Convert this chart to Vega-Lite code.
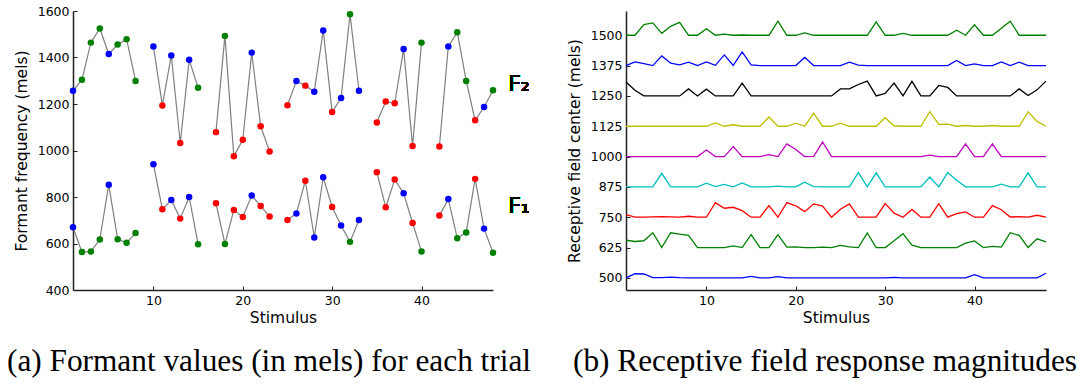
{
  "$schema": "https://vega.github.io/schema/vega-lite/v6.json",
  "background": "white",
  "padding": {"left": 6, "top": 5, "right": 5, "bottom": 5},
  "config": {
    "view": {"stroke": null},
    "font": "DejaVu Sans",
    "axis": {
      "labelFont": "DejaVu Sans", "titleFont": "DejaVu Sans",
      "labelFontSize": 12.5, "titleFontSize": 15.5, "titleFontWeight": "normal",
      "labelColor": "#000", "titleColor": "#000",
      "domainColor": "#222", "domainWidth": 1.5,
      "tickColor": "#222", "tickSize": -4, "labelPadding": 8, "grid": false, "format": "d"
    }
  },
  "resolve": {"scale": {"color": "independent"}},
  "spacing": 133,
  "bounds": "flush",
  "hconcat": [
    {
      "width": 420, "height": 279,
      "title": {"text": "(a) Formant values (in mels) for each trial", "orient": "bottom", "font": "Liberation Serif", "fontSize": 31.3, "fontWeight": "normal", "color": "#000", "anchor": "middle", "frame": "group", "offset": 20, "dx": -14},
      "data": {"values": [
        {"s":1,"F2":1257,"F1":670,"c":"A","g":1},
        {"s":2,"F2":1304,"F1":563,"c":"B","g":1},
        {"s":3,"F2":1464,"F1":566,"c":"B","g":1},
        {"s":4,"F2":1525,"F1":617,"c":"B","g":1},
        {"s":5,"F2":1415,"F1":853,"c":"A","g":1},
        {"s":6,"F2":1456,"F1":618,"c":"B","g":1},
        {"s":7,"F2":1479,"F1":603,"c":"B","g":1},
        {"s":8,"F2":1299,"F1":645,"c":"B","g":1},
        {"s":10,"F2":1447,"F1":941,"c":"A","g":2},
        {"s":11,"F2":1194,"F1":747,"c":"C","g":2},
        {"s":12,"F2":1409,"F1":787,"c":"A","g":2},
        {"s":13,"F2":1032,"F1":707,"c":"C","g":2},
        {"s":14,"F2":1390,"F1":800,"c":"A","g":2},
        {"s":15,"F2":1270,"F1":597,"c":"B","g":2},
        {"s":17,"F2":1079,"F1":773,"c":"C","g":3},
        {"s":18,"F2":1493,"F1":598,"c":"B","g":3},
        {"s":19,"F2":975,"F1":744,"c":"C","g":3},
        {"s":20,"F2":1046,"F1":714,"c":"C","g":3},
        {"s":21,"F2":1421,"F1":806,"c":"A","g":3},
        {"s":22,"F2":1104,"F1":761,"c":"C","g":3},
        {"s":23,"F2":996,"F1":716,"c":"C","g":3},
        {"s":25,"F2":1195,"F1":701,"c":"C","g":4},
        {"s":26,"F2":1299,"F1":729,"c":"A","g":4},
        {"s":27,"F2":1279,"F1":870,"c":"C","g":4},
        {"s":28,"F2":1253,"F1":626,"c":"A","g":4},
        {"s":29,"F2":1516,"F1":885,"c":"A","g":4},
        {"s":30,"F2":1166,"F1":757,"c":"C","g":4},
        {"s":31,"F2":1226,"F1":677,"c":"A","g":4},
        {"s":32,"F2":1586,"F1":607,"c":"B","g":4},
        {"s":33,"F2":1257,"F1":701,"c":"A","g":4},
        {"s":35,"F2":1120,"F1":906,"c":"C","g":5},
        {"s":36,"F2":1211,"F1":756,"c":"C","g":5},
        {"s":37,"F2":1203,"F1":875,"c":"C","g":5},
        {"s":38,"F2":1437,"F1":816,"c":"A","g":5},
        {"s":39,"F2":1019,"F1":688,"c":"C","g":5},
        {"s":40,"F2":1464,"F1":566,"c":"B","g":5},
        {"s":42,"F2":1017,"F1":720,"c":"C","g":6},
        {"s":43,"F2":1447,"F1":791,"c":"A","g":6},
        {"s":44,"F2":1509,"F1":623,"c":"B","g":6},
        {"s":45,"F2":1299,"F1":647,"c":"B","g":6},
        {"s":46,"F2":1130,"F1":878,"c":"C","g":6},
        {"s":47,"F2":1187,"F1":664,"c":"A","g":6},
        {"s":48,"F2":1259,"F1":560,"c":"B","g":6}
      ]},
      "transform": [{"fold": ["F1", "F2"], "as": ["formant", "mels"]}],
      "encoding": {
        "x": {"field": "s", "type": "quantitative", "scale": {"domain": [1, 48], "nice": false, "zero": false},
              "axis": {"values": [10, 20, 30, 40], "title": "Stimulus", "titlePadding": 4}},
        "y": {"field": "mels", "type": "quantitative", "scale": {"domain": [400, 1600], "nice": false, "zero": false},
              "axis": {"values": [400, 600, 800, 1000, 1200, 1400, 1600], "title": "Formant frequency (mels)", "titlePadding": 8}}
      },
      "layer": [
        {"mark": {"type": "line", "color": "#808080", "strokeWidth": 1.2},
         "encoding": {"detail": [{"field": "formant"}, {"field": "g"}]}},
        {"mark": {"type": "circle", "size": 42, "opacity": 1},
         "encoding": {"color": {"field": "c", "type": "nominal", "scale": {"domain": ["A", "B", "C"], "range": ["#0000ff", "#008000", "#ff0000"]}, "legend": null}}},
        {"mark": {"type": "text", "text": "F₂", "align": "left", "baseline": "alphabetic", "fontSize": 22, "font": "DejaVu Sans", "color": "#000"},
         "encoding": {"x": {"datum": 49.7, "type": "quantitative"}, "y": {"datum": 1256, "type": "quantitative"}}},
        {"mark": {"type": "text", "text": "F₁", "align": "left", "baseline": "alphabetic", "fontSize": 22, "font": "DejaVu Sans", "color": "#000"},
         "encoding": {"x": {"datum": 49.7, "type": "quantitative"}, "y": {"datum": 733, "type": "quantitative"}}}
      ]
    },
    {
      "width": 420, "height": 279,
      "title": {"text": "(b) Receptive field response magnitudes", "orient": "bottom", "font": "Liberation Serif", "fontSize": 31.3, "fontWeight": "normal", "color": "#000", "anchor": "middle", "frame": "group", "offset": 20, "dx": -11},
      "data": {"values": [
        {"s":1,"r500":500,"r625":655,"r750":761,"r875":875,"r1000":1000,"r1125":1125,"r1250":1307,"r1375":1375,"r1500":1500},
        {"s":2,"r500":517,"r625":650,"r750":750,"r875":875,"r1000":1000,"r1125":1125,"r1250":1273,"r1375":1390,"r1500":1500},
        {"s":3,"r500":516,"r625":653,"r750":750,"r875":875,"r1000":1000,"r1125":1125,"r1250":1250,"r1375":1383,"r1500":1544},
        {"s":4,"r500":501,"r625":686,"r750":751,"r875":875,"r1000":1000,"r1125":1125,"r1250":1250,"r1375":1375,"r1500":1551},
        {"s":5,"r500":501,"r625":625,"r750":752,"r875":931,"r1000":1000,"r1125":1125,"r1250":1250,"r1375":1415,"r1500":1508},
        {"s":6,"r500":503,"r625":686,"r750":751,"r875":875,"r1000":1000,"r1125":1125,"r1250":1250,"r1375":1385,"r1500":1537},
        {"s":7,"r500":501,"r625":680,"r750":750,"r875":875,"r1000":1000,"r1125":1125,"r1250":1250,"r1375":1378,"r1500":1553},
        {"s":8,"r500":500,"r625":675,"r750":754,"r875":875,"r1000":1000,"r1125":1125,"r1250":1279,"r1375":1389,"r1500":1500},
        {"s":9,"r500":500,"r625":625,"r750":750,"r875":875,"r1000":1000,"r1125":1125,"r1250":1250,"r1375":1375,"r1500":1500},
        {"s":10,"r500":500,"r625":625,"r750":750,"r875":890,"r1000":1027,"r1125":1125,"r1250":1278,"r1375":1390,"r1500":1527},
        {"s":11,"r500":500,"r625":625,"r750":810,"r875":876,"r1000":1000,"r1125":1139,"r1250":1250,"r1375":1376,"r1500":1500},
        {"s":12,"r500":500,"r625":625,"r750":787,"r875":885,"r1000":1000,"r1125":1125,"r1250":1250,"r1375":1419,"r1500":1505},
        {"s":13,"r500":500,"r625":632,"r750":791,"r875":875,"r1000":1041,"r1125":1131,"r1250":1250,"r1375":1376,"r1500":1500},
        {"s":14,"r500":500,"r625":625,"r750":777,"r875":891,"r1000":1000,"r1125":1125,"r1250":1303,"r1375":1431,"r1500":1501},
        {"s":15,"r500":506,"r625":678,"r750":750,"r875":875,"r1000":1000,"r1125":1125,"r1250":1250,"r1375":1378,"r1500":1500},
        {"s":16,"r500":500,"r625":625,"r750":750,"r875":875,"r1000":1000,"r1125":1125,"r1250":1250,"r1375":1375,"r1500":1500},
        {"s":17,"r500":500,"r625":625,"r750":798,"r875":875,"r1000":1008,"r1125":1163,"r1250":1250,"r1375":1375,"r1500":1500},
        {"s":18,"r500":505,"r625":678,"r750":750,"r875":878,"r1000":1000,"r1125":1125,"r1250":1250,"r1375":1375,"r1500":1558},
        {"s":19,"r500":500,"r625":627,"r750":810,"r875":875,"r1000":1052,"r1125":1125,"r1250":1250,"r1375":1375,"r1500":1500},
        {"s":20,"r500":500,"r625":628,"r750":797,"r875":875,"r1000":1029,"r1125":1138,"r1250":1250,"r1375":1375,"r1500":1500},
        {"s":21,"r500":500,"r625":625,"r750":773,"r875":894,"r1000":1000,"r1125":1125,"r1250":1250,"r1375":1409,"r1500":1510},
        {"s":22,"r500":500,"r625":625,"r750":805,"r875":876,"r1000":1001,"r1125":1179,"r1250":1250,"r1375":1375,"r1500":1500},
        {"s":23,"r500":500,"r625":627,"r750":796,"r875":875,"r1000":1060,"r1125":1125,"r1250":1250,"r1375":1375,"r1500":1500},
        {"s":24,"r500":500,"r625":625,"r750":750,"r875":875,"r1000":1000,"r1125":1125,"r1250":1250,"r1375":1375,"r1500":1500},
        {"s":25,"r500":500,"r625":634,"r750":783,"r875":875,"r1000":1000,"r1125":1138,"r1250":1279,"r1375":1375,"r1500":1500},
        {"s":26,"r500":500,"r625":628,"r750":805,"r875":875,"r1000":1000,"r1125":1125,"r1250":1279,"r1375":1389,"r1500":1500},
        {"s":27,"r500":500,"r625":625,"r750":750,"r875":934,"r1000":1000,"r1125":1125,"r1250":1297,"r1375":1377,"r1500":1500},
        {"s":28,"r500":500,"r625":685,"r750":750,"r875":875,"r1000":1000,"r1125":1125,"r1250":1311,"r1375":1375,"r1500":1500},
        {"s":29,"r500":500,"r625":625,"r750":750,"r875":933,"r1000":1000,"r1125":1125,"r1250":1250,"r1375":1375,"r1500":1555},
        {"s":30,"r500":500,"r625":625,"r750":806,"r875":875,"r1000":1000,"r1125":1160,"r1250":1260,"r1375":1375,"r1500":1500},
        {"s":31,"r500":502,"r625":653,"r750":767,"r875":875,"r1000":1000,"r1125":1127,"r1250":1303,"r1375":1375,"r1500":1500},
        {"s":32,"r500":500,"r625":682,"r750":750,"r875":875,"r1000":1000,"r1125":1125,"r1250":1250,"r1375":1375,"r1500":1508},
        {"s":33,"r500":500,"r625":635,"r750":782,"r875":875,"r1000":1000,"r1125":1125,"r1250":1310,"r1375":1375,"r1500":1500},
        {"s":34,"r500":500,"r625":625,"r750":750,"r875":875,"r1000":1000,"r1125":1125,"r1250":1250,"r1375":1375,"r1500":1500},
        {"s":35,"r500":500,"r625":625,"r750":750,"r875":916,"r1000":1006,"r1125":1185,"r1250":1250,"r1375":1375,"r1500":1500},
        {"s":36,"r500":500,"r625":625,"r750":806,"r875":875,"r1000":1000,"r1125":1133,"r1250":1293,"r1375":1375,"r1500":1500},
        {"s":37,"r500":500,"r625":625,"r750":750,"r875":934,"r1000":1000,"r1125":1134,"r1250":1285,"r1375":1375,"r1500":1500},
        {"s":38,"r500":500,"r625":625,"r750":765,"r875":902,"r1000":1000,"r1125":1125,"r1250":1250,"r1375":1396,"r1500":1521},
        {"s":39,"r500":500,"r625":643,"r750":772,"r875":875,"r1000":1052,"r1125":1128,"r1250":1250,"r1375":1375,"r1500":1500},
        {"s":40,"r500":513,"r625":652,"r750":750,"r875":875,"r1000":1000,"r1125":1125,"r1250":1250,"r1375":1382,"r1500":1543},
        {"s":41,"r500":500,"r625":625,"r750":750,"r875":875,"r1000":1000,"r1125":1125,"r1250":1250,"r1375":1375,"r1500":1500},
        {"s":42,"r500":500,"r625":630,"r750":798,"r875":875,"r1000":1052,"r1125":1128,"r1250":1250,"r1375":1375,"r1500":1500},
        {"s":43,"r500":500,"r625":627,"r750":781,"r875":886,"r1000":1000,"r1125":1125,"r1250":1250,"r1375":1390,"r1500":1529},
        {"s":44,"r500":500,"r625":686,"r750":751,"r875":875,"r1000":1000,"r1125":1125,"r1250":1250,"r1375":1375,"r1500":1558},
        {"s":45,"r500":500,"r625":675,"r750":752,"r875":875,"r1000":1000,"r1125":1125,"r1250":1279,"r1375":1389,"r1500":1500},
        {"s":46,"r500":500,"r625":625,"r750":750,"r875":933,"r1000":1000,"r1125":1184,"r1250":1252,"r1375":1375,"r1500":1500},
        {"s":47,"r500":500,"r625":661,"r750":758,"r875":875,"r1000":1000,"r1125":1145,"r1250":1275,"r1375":1375,"r1500":1500},
        {"s":48,"r500":519,"r625":648,"r750":750,"r875":875,"r1000":1000,"r1125":1125,"r1250":1311,"r1375":1375,"r1500":1500}
      ]},
      "transform": [{"fold": ["r500", "r625", "r750", "r875", "r1000", "r1125", "r1250", "r1375", "r1500"], "as": ["rf", "mels"]}],
      "mark": {"type": "line", "strokeWidth": 1.3},
      "encoding": {
        "x": {"field": "s", "type": "quantitative", "scale": {"domain": [1, 48], "nice": false, "zero": false},
              "axis": {"values": [10, 20, 30, 40], "title": "Stimulus", "titlePadding": 4}},
        "y": {"field": "mels", "type": "quantitative", "scale": {"domain": [450, 1600], "nice": false, "zero": false},
              "axis": {"values": [500, 625, 750, 875, 1000, 1125, 1250, 1375, 1500], "title": "Receptive field center (mels)", "titlePadding": 8}},
        "color": {"field": "rf", "type": "nominal",
                  "scale": {"domain": ["r500", "r625", "r750", "r875", "r1000", "r1125", "r1250", "r1375", "r1500"],
                            "range": ["#0000ff", "#008000", "#ff0000", "#00bfbf", "#bf00bf", "#bfbf00", "#000000", "#0000ff", "#008000"]},
                  "legend": null}
      }
    }
  ]
}
